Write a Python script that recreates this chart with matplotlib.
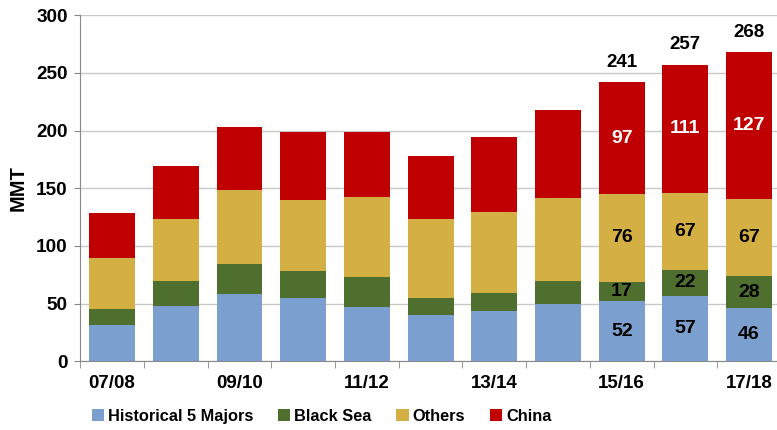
import numpy as np
import matplotlib.pyplot as plt

# data (MMT)
years = ['07/08', '08/09', '09/10', '10/11', '11/12', '12/13',
         '13/14', '14/15', '15/16', '16/17', '17/18']
majors = [31.5, 48, 58.5, 55, 47, 40, 43.5, 50, 52, 57, 46]
black_sea = [14, 22, 25.5, 23, 26.5, 14.5, 15.5, 20, 17, 22, 28]
others = [44, 53, 64.5, 62, 69, 69, 70.5, 71.5, 76, 67, 67]
china = [39, 46, 55, 59, 56, 54.5, 65, 76.5, 97, 111, 127]
totals = [None, None, None, None, None, None, None, None, 241, 257, 268]
labelled = [8, 9, 10]

colors = ['#7BA0CF', '#4F6F2E', '#D4AF44', '#C00000']
names = ['Historical 5 Majors', 'Black Sea', 'Others', 'China']
series = [majors, black_sea, others, china]

plt.rcParams['font.family'] = ['Liberation Sans', 'DejaVu Sans']
plt.rcParams['font.weight'] = 'bold'

fig = plt.figure(figsize=(7.77, 4.30), dpi=100)
ax = fig.add_axes([0.1033, 0.1598, 0.9018, 0.8047])

x = np.arange(len(years))
bottom = np.zeros(len(years))
for vals, c, n in zip(series, colors, names):
    ax.bar(x, vals, 0.72, bottom=bottom, color=c, label=n, zorder=3)
    bottom += np.array(vals)

# segment labels for the last three seasons
cum = np.zeros(len(years))
for k, vals in enumerate(series):
    for i in labelled:
        txt_col = 'white' if k == 3 else 'black'
        ax.text(x[i], cum[i] + vals[i] / 2, f'{vals[i]:.0f}', ha='center', va='center',
                fontsize=14, fontweight='bold', color=txt_col, zorder=4)
    cum += np.array(vals)

for i in labelled:
    ax.annotate(str(totals[i]), (x[i], bottom[i]), xytext=(0, 14.5), textcoords='offset points',
                ha='center', va='center', fontsize=13.5, fontweight='bold')

ax.set_xlim(-0.5, len(years) - 0.5)
ax.set_ylim(0, 300)
ax.set_yticks(range(0, 301, 50))
ax.yaxis.grid(True, color='#C8C8C8', lw=1, zorder=0)
ax.tick_params(axis='y', labelsize=13.7, length=4, color='#888888', pad=5)

ax.set_xticks(x[::2])
ax.set_xticklabels(years[::2])
ax.set_xticks(np.arange(-0.5, len(years), 1), minor=True)
ax.tick_params(axis='x', which='major', length=0, labelsize=13.5, pad=10)
ax.tick_params(axis='x', which='minor', length=5, color='#888888')

for s in ['top', 'right']:
    ax.spines[s].set_visible(False)
for s in ['left', 'bottom']:
    ax.spines[s].set_color('#888888')

ax.set_ylabel('MMT', fontsize=14.5, fontweight='bold', labelpad=6)

fig.legend(loc='center', bbox_to_anchor=(0.414, 0.031), ncol=4, frameon=False,
           fontsize=11.8, handlelength=0.75, handleheight=0.75, handletextpad=0.25,
           columnspacing=1.5)

fig.savefig('out.png', dpi=100)
